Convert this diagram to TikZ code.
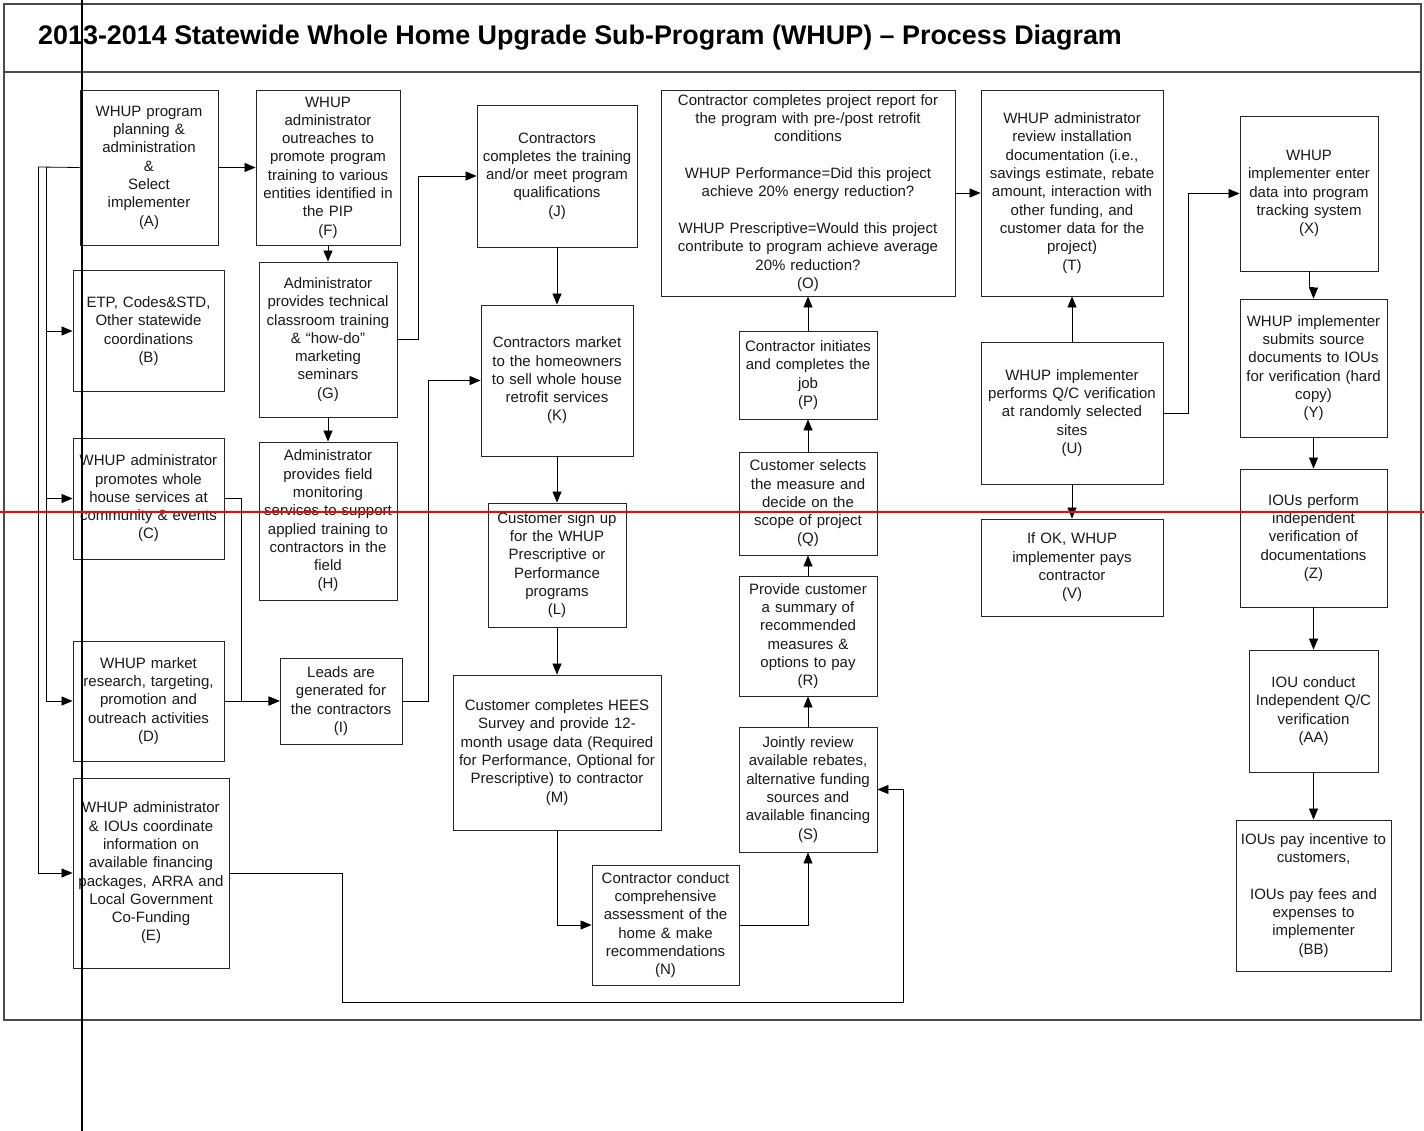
\documentclass[tikz,border=0pt]{standalone}
\usepackage{fontspec}
\setmainfont{Liberation Sans}
\usetikzlibrary{arrows.meta}
\begin{document}
\begin{tikzpicture}[x=1pt,y=-1pt,
  bx/.style={draw=black!85,line width=0.9pt,inner sep=0pt,align=center,
    font=\fontsize{15}{18.3}\selectfont,text=black!90},
  arr/.style={draw=black,line width=0.8pt,-{Triangle[length=11pt,width=9pt]}},
  ln/.style={draw=black,line width=0.8pt}]
\useasboundingbox (0,0) rectangle (1424,1131);
\fill[white] (0,0) rectangle (1424,1131);
% frame
\draw[black!70,line width=1.2pt] (4,4) rectangle (1421,1020);
\draw[black!70,line width=1.2pt] (4,72) -- (1421,72);
\node[anchor=west,font=\fontsize{26.9}{31}\selectfont\bfseries,inner sep=0pt] (title) at (38,38)
  {2013-2014 Statewide Whole Home Upgrade Sub-Program (WHUP) – Process Diagram};
% boxes
\node[bx,text width=138,minimum height=155] (A) at (149,167.5) {WHUP program\\planning \&\\administration\\\&\\Select\\implementer\\(A)};
\node[bx,text width=144,minimum height=155] (F) at (328,167.5) {WHUP\\administrator\\outreaches to\\promote program\\training to various\\entities identified in\\the PIP\\(F)};
\node[bx,text width=151,minimum height=121] (B) at (148.5,331) {ETP, Codes\&STD,\\Other statewide\\coordinations\\(B)};
\node[bx,text width=138,minimum height=155] (G) at (328,339.5) {Administrator\\provides technical\\classroom training\\\& “how-do”\\marketing\\seminars\\(G)};
\node[bx,text width=151,minimum height=121] (C) at (148.5,498.5) {WHUP administrator\\promotes whole\\house services at\\community \& events\\(C)};
\node[bx,text width=138,minimum height=158] (H) at (328,521) {Administrator\\provides field\\monitoring\\services to support\\applied training to\\contractors in the\\field\\(H)};
\node[bx,text width=151,minimum height=120] (D) at (148.5,701) {WHUP market\\research, targeting,\\promotion and\\outreach activities\\(D)};
\node[bx,text width=122,minimum height=86] (I) at (341,701) {Leads are\\generated for\\the contractors\\(I)};
\node[bx,text width=156,minimum height=190] (E) at (151,873) {WHUP administrator\\\& IOUs coordinate\\information on\\available financing\\packages, ARRA and\\Local Government\\Co-Funding\\(E)};
\node[bx,text width=160,minimum height=142] (J) at (557,176) {Contractors\\completes the training\\and/or meet program\\qualifications\\(J)};
\node[bx,text width=152,minimum height=151] (K) at (557,380.5) {Contractors market\\to the homeowners\\to sell whole house\\retrofit services\\(K)};
\node[bx,text width=138,minimum height=124] (L) at (557,565) {Customer sign up\\for the WHUP\\Prescriptive or\\Performance\\programs\\(L)};
\node[bx,text width=208,minimum height=155] (M) at (557,752.5) {Customer completes HEES\\Survey and provide 12-\\month usage data (Required\\for Performance, Optional for\\Prescriptive) to contractor\\(M)};
\node[bx,text width=147,minimum height=120] (N) at (665.5,925) {Contractor conduct\\comprehensive\\assessment of the\\home \& make\\recommendations\\(N)};
\node[bx,text width=294,minimum height=206] (O) at (808,193) {Contractor completes project report for\\the program with pre-/post retrofit\\conditions\\\mbox{}\\WHUP Performance=Did this project\\achieve 20\% energy reduction?\\\mbox{}\\WHUP Prescriptive=Would this project\\contribute to program achieve average\\20\% reduction?\\(O)};
\node[bx,text width=138,minimum height=88] (P) at (808,375) {Contractor initiates\\and completes the\\job\\(P)};
\node[bx,text width=138,minimum height=103] (Q) at (808,503.5) {Customer selects\\the measure and\\decide on the\\scope of project\\(Q)};
\node[bx,text width=138,minimum height=120] (R) at (808,636) {Provide customer\\a summary of\\recommended\\measures \&\\options to pay\\(R)};
\node[bx,text width=138,minimum height=125] (S) at (808,789.5) {Jointly review\\available rebates,\\alternative funding\\sources and\\available financing\\(S)};
\node[bx,text width=182,minimum height=206] (T) at (1072,193) {WHUP administrator\\review installation\\documentation (i.e.,\\savings estimate, rebate\\amount, interaction with\\other funding, and\\customer data for the\\project)\\(T)};
\node[bx,text width=182,minimum height=142] (U) at (1072,413) {WHUP implementer\\performs Q/C verification\\at randomly selected\\sites\\(U)};
\node[bx,text width=182,minimum height=97] (V) at (1072,567.5) {If OK, WHUP\\implementer pays\\contractor\\(V)};
\node[bx,text width=138,minimum height=155] (X) at (1309,193.5) {WHUP\\implementer enter\\data into program\\tracking system\\(X)};
\node[bx,text width=147,minimum height=138] (Y) at (1313.5,368) {WHUP implementer\\submits source\\documents to IOUs\\for verification (hard\\copy)\\(Y)};
\node[bx,text width=147,minimum height=138] (Z) at (1313.5,538) {IOUs perform\\independent\\verification of\\documentations\\(Z)};
\node[bx,text width=129,minimum height=122] (AA) at (1313.5,711) {IOU conduct\\Independent Q/C\\verification\\(AA)};
\node[bx,text width=155,minimum height=151] (BB) at (1313.5,895.5) {IOUs pay incentive to\\customers,\\\mbox{}\\IOUs pay fees and\\expenses to\\implementer\\(BB)};
% bus on the left
\coordinate (busO) at (38,167);
\coordinate (busI) at (46,167);
\draw[ln] (A.west) -- (busO);
\draw[arr] (busO) |- (E.west);
\draw[arr] (busI) |- (D.west);
\draw[arr] (B.west -| busI) -- (B.west);
\draw[arr] (C.west -| busI) -- (C.west);
% connectors
\draw[arr] (A) -- (F);
\draw[arr] (F) -- (G);
\draw[arr] (G) -- (H);
\draw[arr] (G.east) -- ++(21,0) |- (J.west);
\draw[arr] (C.east) -- ++(17,0) |- (I.west);
\draw[arr] (D.east) -- (I.west);
\draw[arr] (I.east) -- ++(26,0) |- (K.west);
\draw[arr] (J) -- (K);
\draw[arr] (K) -- (L);
\draw[arr] (L) -- (M);
\draw[arr] (M.south) |- (N.west);
\draw[arr] (N.east) -| (S.south);
\draw[arr] (S) -- (R);
\draw[arr] (R) -- (Q);
\draw[arr] (Q) -- (P);
\draw[arr] (P) -- (O);
\coordinate (eLoop) at (342,1002);
\draw[arr] (E.east) -| (eLoop) -- (903,1002) |- (S.east);
\draw[arr] (O.east) -- (T.west |- O.east);
\draw[arr] (U) -- (T);
\draw[arr] (U) -- (V);
\draw[arr] (U.east) -- ++(25,0) |- (X.west);
\draw[arr] (X.south) -- ++(0,16) -| (Y.north);
\draw[arr] (Y) -- (Z);
\draw[arr] (Z) -- (AA);
\draw[arr] (AA) -- (BB);
% overlay lines
\draw[black,line width=2pt] (82,0) -- (82,1131);
\draw[red,line width=2pt] (0,512) -- (1424,512);
\end{tikzpicture}
\end{document}
